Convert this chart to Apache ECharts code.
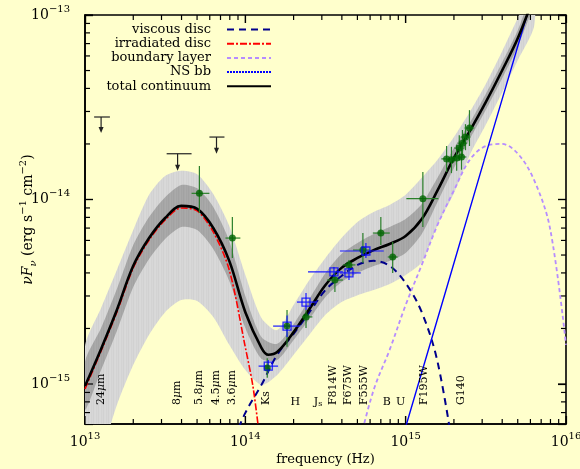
<!DOCTYPE html>
<html><head><meta charset="utf-8">
<script src="https://cdn.jsdelivr.net/npm/echarts@6/dist/echarts.min.js"></script>
<style>html,body{margin:0;padding:0;background:#ffffcc}#c{width:580px;height:469px}</style>
</head><body><div id="c"></div>
<script>
// ---------- data (frequency in Hz, nuFnu in erg s^-1 cm^-2) ----------
const totalFreq = [1e13,1.26e13,1.58e13,2.0e13,2.51e13,3.16e13,3.98e13,5.01e13,6.31e13,7.94e13,1e14,1.26e14,1.39e14,1.58e14,2.0e14,2.51e14,3.16e14,3.98e14,5.01e14,6.31e14,7.94e14,1e15,1.26e15,1.58e15,2.0e15,2.51e15,3.16e15,3.98e15,5.01e15,6.31e15];
const totalFlux = [9.75e-16,1.55e-15,2.52e-15,4.37e-15,6.18e-15,7.94e-15,9.23e-15,8.89e-15,7.01e-15,4.65e-15,2.45e-15,1.57e-15,1.44e-15,1.49e-15,1.91e-15,2.55e-15,3.44e-15,4.26e-15,4.82e-15,5.32e-15,5.74e-15,6.34e-15,7.83e-15,1.12e-14,1.68e-14,2.35e-14,3.37e-14,4.97e-14,7.50e-14,1.26e-13];

const irrFreq = [1e13,1.26e13,1.58e13,2.0e13,2.51e13,3.16e13,3.98e13,5.01e13,6.31e13,7.94e13,1e14,1.12e14,1.26e14];
const irrFlux = [9.4e-16,1.51e-15,2.45e-15,4.26e-15,6.03e-15,7.74e-15,8.99e-15,8.67e-15,6.67e-15,4.15e-15,1.58e-15,9.5e-16,4.2e-16];

const viscFreq = [7.94e13,1e14,1.26e14,1.58e14,2.0e14,2.51e14,3.16e14,3.98e14,5.01e14,6.31e14,7.94e14,1e15,1.26e15,1.58e15,2.0e15];
const viscFlux = [4.39e-16,6.97e-16,9.89e-16,1.44e-15,1.87e-15,2.45e-15,3.23e-15,3.85e-15,4.42e-15,4.65e-15,4.37e-15,3.52e-15,2.45e-15,1.32e-15,4.12e-16];

const blFreq = [5.01e14,6.31e14,7.94e14,1e15,1.26e15,1.58e15,2.0e15,2.51e15,3.16e15,3.98e15,5.01e15,6.31e15,7.94e15,1e16];
const blFlux = [4.39e-16,9.27e-16,1.53e-15,2.68e-15,4.42e-15,7.28e-15,1.12e-14,1.64e-14,1.95e-14,2.0e-14,1.77e-14,1.28e-14,7.02e-15,1.63e-15];

const nsFreq = [8.9e14,1e15,1.78e15,3.16e15,6.31e15];
const nsFlux = [4.2e-16,5.85e-16,3.2e-15,1.75e-14,1.34e-13];

const bandFreq = [1e13,1.26e13,1.58e13,2.0e13,2.51e13,3.16e13,3.98e13,5.01e13,6.31e13,7.94e13,1e14,1.26e14,1.58e14,2.0e14,2.51e14,3.16e14,3.98e14,5.01e14,6.31e14,7.94e14,1e15,1.26e15,1.58e15,2.0e15,2.51e15,3.16e15,3.98e15,5.01e15,6.31e15];
const outerUpper = [1.59e-15,2.58e-15,4.15e-15,6.84e-15,1.06e-14,1.34e-14,1.43e-14,1.37e-14,1.07e-14,7.18e-15,3.90e-15,2.28e-15,1.96e-15,2.68e-15,3.66e-15,4.82e-15,6.18e-15,7.55e-15,8.55e-15,9.33e-15,1.06e-14,1.31e-14,1.64e-14,2.18e-14,2.98e-14,4.23e-14,6.31e-14,9.63e-14,1.4e-13];
const outerLower = [2.66e-16,4.12e-16,7.69e-16,1.27e-15,1.85e-15,2.45e-15,2.85e-15,2.82e-15,2.31e-15,1.63e-15,1.19e-15,9.89e-16,1.12e-15,1.44e-15,1.85e-15,2.37e-15,2.78e-15,3.03e-15,3.23e-15,3.48e-15,3.90e-15,4.58e-15,7.28e-15,1.08e-14,1.74e-14,2.54e-14,3.78e-14,5.70e-14,8.61e-14];
const innerUpper = [1.32e-15,2.01e-15,3.27e-15,5.67e-15,8.04e-15,1.03e-14,1.20e-14,1.15e-14,9.11e-15,5.96e-15,3.00e-15,1.80e-15,1.65e-15,2.11e-15,2.89e-15,4.00e-15,5.07e-15,5.81e-15,6.50e-15,7.10e-15,7.84e-15,9.45e-15,1.31e-14,1.90e-14,2.60e-14,3.73e-14,5.49e-14,8.29e-14,1.42e-13];
const innerLower = [7.23e-16,1.19e-15,1.94e-15,3.36e-15,4.76e-15,6.11e-15,7.10e-15,6.83e-15,5.39e-15,3.62e-15,2.01e-15,1.37e-15,1.35e-15,1.73e-15,2.25e-15,2.96e-15,3.57e-15,4.00e-15,4.36e-15,4.64e-15,5.13e-15,6.50e-15,9.69e-15,1.48e-14,2.13e-14,3.06e-14,4.50e-14,6.79e-14,1.16e-13];

// detections (green)
const gFreq   = [5.17e13,8.3e13,1.37e14,1.82e14,2.39e14,3.62e14,4.43e14,5.41e14,7.0e14,8.3e14,1.28e15,1.80e15,1.93e15,2.08e15,2.23e15,2.16e15,2.26e15,2.36e15,2.50e15];
const gFlux   = [1.08e-14,6.18e-15,1.22e-15,2.06e-15,2.31e-15,3.66e-15,4.42e-15,5.32e-15,6.58e-15,4.88e-15,1.01e-14,1.66e-14,1.64e-14,1.68e-14,1.70e-14,1.90e-14,2.02e-14,2.18e-14,2.44e-14];
const gFluxLo = [8.45e-15,4.82e-15,1.08e-15,1.59e-15,2.01e-15,3.15e-15,4.05e-15,4.53e-15,5.66e-15,4.0e-15,7.10e-15,1.41e-14,1.39e-14,1.43e-14,1.45e-14,1.62e-14,1.72e-14,1.85e-14,1.95e-14];
const gFluxHi = [1.52e-14,8.04e-15,1.38e-15,2.52e-15,2.52e-15,4.05e-15,4.70e-15,6.58e-15,8.04e-15,5.89e-15,1.41e-14,1.95e-14,1.93e-14,1.98e-14,2.0e-14,2.23e-14,2.38e-14,2.56e-14,3.05e-14];
const gFreqLo = [4.62e13,7.52e13,1.33e14,1.75e14,2.26e14,3.23e14,4.06e14,4.69e14,6.24e14,7.73e14,1.01e15,1.67e15,1.80e15,1.94e15,2.08e15,2.01e15,2.11e15,2.20e15,2.33e15];
const gFreqHi = [5.97e13,9.31e13,1.41e14,1.90e14,2.62e14,4.06e14,4.86e14,5.97e14,7.96e14,8.91e14,1.60e15,1.93e15,2.07e15,2.23e15,2.39e15,2.32e15,2.42e15,2.53e15,2.68e15];

// photometry (blue squares)
const bFreq   = [1.39e14,1.82e14,2.39e14,3.57e14,4.43e14,5.65e14];
const bFlux   = [1.25e-15,2.06e-15,2.78e-15,4.05e-15,4.0e-15,5.26e-15];
const bFluxLo = [1.16e-15,1.80e-15,2.52e-15,3.80e-15,3.66e-15,4.82e-15];
const bFluxHi = [1.35e-15,2.35e-15,3.11e-15,4.30e-15,4.31e-15,5.81e-15];
const bFreqLo = [1.21e14,1.49e14,2.10e14,2.46e14,3.89e14,3.89e14];
const bFreqHi = [1.60e14,2.20e14,2.80e14,4.06e14,5.25e14,7.30e14];

// upper limits
const ulFreq   = [1.26e13,3.78e13,6.61e13];
const ulFlux   = [2.80e-14,1.77e-14,2.18e-14];
const ulTip    = [2.29e-14,1.43e-14,1.77e-14];
const ulFreqLo = [1.14e13,3.23e13,5.97e13];
const ulFreqHi = [1.43e13,4.62e13,7.41e13];

// band labels
const bandNames = ['24μm','8μm','5.8μm','4.5μm','3.6μm','Ks','H','Js','F814W','F675W','F555W','B','U','F195W','G140'];
const bandNameFreq = [1.26e13,3.78e13,5.18e13,6.61e13,8.30e13,1.35e14,2.05e14,2.84e14,3.52e14,4.37e14,5.49e14,7.62e14,9.31e14,1.31e15,2.23e15];
const horizontalNames = ['H','Js','B','U'];

const xMajor = [1e13,1e14,1e15,1e16];
const yMajor = [1e-15,1e-14,1e-13];
// ---------------------------------------------------------------------

const SERIF = 'DejaVu Serif';
const xMinor = [], yMinor = [];
for (let n = 13; n <= 15; n++) for (let k = 2; k <= 9; k++) xMinor.push(k * Math.pow(10, n));
for (let n = -16; n <= -14; n++) for (let k = 2; k <= 9; k++) yMinor.push(k * Math.pow(10, n));
const X_MIN = 1e13, X_MAX = 1e16, Y_MIN = 6.07e-16, Y_MAX = 1e-13;
const LABEL_BASE = 7.69e-16;

const pairs = (a, b) => a.map((v, i) => [v, b[i]]);
const supRich = {
  b: {fontFamily: SERIF, fontSize: 14, lineHeight: 22, color: '#000'},
  s: {fontFamily: SERIF, fontSize: 10, lineHeight: 12, verticalAlign: 'top', color: '#000'}
};
const inTick = {show: true, inside: true, length: 8, lineStyle: {color: '#000', width: 1.2}};

function stripes(cols) {
  const c = document.createElement('canvas');
  c.width = cols.length; c.height = 4;
  const ctx = c.getContext('2d');
  cols.forEach((col, i) => { ctx.fillStyle = col; ctx.fillRect(i, 0, 1, 4); });
  return {image: c, repeat: 'repeat'};
}
const lightFill = stripes(['#d9d9d9', '#d3d3d3', '#d7d7d7', '#d1d1d1', '#d8d8d8']);
const darkFill = stripes(['#aaaaaa', '#a4a4a4', '#a8a8a8', '#a2a2a2', '#a7a7a7']);

function band(upper, lower, fill) {
  return {
    type: 'custom', xAxisIndex: 0, yAxisIndex: 0, z: 1, silent: true,
    data: [[bandFreq[0], upper[0]]],
    renderItem(params, api) {
      const pts = [];
      for (let i = 0; i < bandFreq.length; i++) pts.push(api.coord([bandFreq[i], upper[i]]));
      for (let i = bandFreq.length - 1; i >= 0; i--) pts.push(api.coord([bandFreq[i], lower[i]]));
      const cs = params.coordSys;
      return {type: 'polygon', shape: {points: pts, smooth: 0.25}, style: {fill},
              clipPath: {type: 'rect', shape: {x: cs.x, y: cs.y, width: cs.width, height: cs.height}}};
    }
  };
}

function errBars(fr, fl, flo, fhi, xlo, xhi, color) {
  return {
    type: 'custom', xAxisIndex: 0, yAxisIndex: 0, z: 5, silent: true,
    data: fr.map((f, i) => [f, fl[i], flo[i], fhi[i], xlo[i], xhi[i]]),
    encode: {x: 0, y: 1},
    renderItem(params, api) {
      const v0 = api.coord([api.value(0), api.value(2)]);
      const v1 = api.coord([api.value(0), api.value(3)]);
      const h0 = api.coord([api.value(4), api.value(1)]);
      const h1 = api.coord([api.value(5), api.value(1)]);
      return {type: 'group', children: [
        {type: 'line', shape: {x1: v0[0], y1: v0[1], x2: v1[0], y2: v1[1]}, style: {stroke: color, lineWidth: 1.2}},
        {type: 'line', shape: {x1: h0[0], y1: h0[1], x2: h1[0], y2: h1[1]}, style: {stroke: color, lineWidth: 1.2}}
      ]};
    }
  };
}

// inward minor/major ticks on all four sides, placed with the axes' own log scales
const tickData = [];
xMajor.forEach(v => tickData.push([v, Y_MIN, 1, 0]));
xMinor.forEach(v => tickData.push([v, Y_MIN, 0, 0]));
yMajor.forEach(v => tickData.push([X_MIN, v, 1, 1]));
yMinor.filter(v => v >= Y_MIN).forEach(v => tickData.push([X_MIN, v, 0, 1]));
const tickSeries = {
  type: 'custom', xAxisIndex: 0, yAxisIndex: 0, z: 2, silent: true,
  data: tickData, encode: {x: 0, y: 1},
  renderItem(params, api) {
    const len = api.value(2) > 0.5 ? 8 : 5;
    if (api.value(3) < 0.5) {
      const b = api.coord([api.value(0), Y_MIN]);
      const t = api.coord([api.value(0), Y_MAX]);
      return {type: 'group', children: [
        {type: 'line', shape: {x1: b[0], y1: b[1], x2: b[0], y2: b[1] - len}, style: {stroke: '#000', lineWidth: 1.2}},
        {type: 'line', shape: {x1: t[0], y1: t[1], x2: t[0], y2: t[1] + len}, style: {stroke: '#000', lineWidth: 1.2}}]};
    }
    const l = api.coord([X_MIN, api.value(1)]);
    const r = api.coord([X_MAX, api.value(1)]);
    return {type: 'group', children: [
      {type: 'line', shape: {x1: l[0], y1: l[1], x2: l[0] + len, y2: l[1]}, style: {stroke: '#000', lineWidth: 1.2}},
      {type: 'line', shape: {x1: r[0], y1: r[1], x2: r[0] - len, y2: r[1]}, style: {stroke: '#000', lineWidth: 1.2}}]};
  }
};

const lineS = (name, fr, fl, color, width, type, smooth, z) => ({
  name, type: 'line', xAxisIndex: 0, yAxisIndex: 0, data: pairs(fr, fl), symbol: 'none', showSymbol: false,
  smooth, z, clip: true, silent: true,
  lineStyle: {color, width, type}, itemStyle: {color}
});

const option = {
  backgroundColor: '#ffffcc',
  animation: false,
  grid: {left: 85, right: 14, top: 15, bottom: 45, outerBoundsMode: 'none', containLabel: false,
         show: true, borderColor: '#000', borderWidth: 1.6, backgroundColor: 'transparent'},
  xAxis: [{
    type: 'log', logBase: 10, min: X_MIN, max: X_MAX, position: 'bottom',
    axisLine: {show: true, onZero: false, lineStyle: {color: '#000', width: 1.6}},
    axisTick: inTick,
    axisLabel: {show: true, customValues: xMajor, margin: 7,
      formatter: v => '{b|10}{s|' + Math.round(Math.log10(v)) + '}', rich: supRich},
    splitLine: {show: false},
    name: 'frequency (Hz)', nameLocation: 'middle', nameGap: 29, nameMoveOverlap: false,
    nameTextStyle: {fontFamily: SERIF, fontSize: 13, color: '#000'}
  }, {
    type: 'log', logBase: 10, min: X_MIN, max: X_MAX, position: 'top',
    axisLine: {show: false}, axisTick: inTick, axisLabel: {show: false}, splitLine: {show: false}
  }],
  yAxis: [{
    type: 'log', logBase: 10, min: Y_MIN, max: Y_MAX, position: 'left',
    axisLine: {show: true, onZero: false, lineStyle: {color: '#000', width: 1.6}},
    axisTick: inTick,
    axisLabel: {show: true, customValues: yMajor, margin: 15,
      formatter: v => '{b|10}{s|−' + Math.round(-Math.log10(v)) + '}', rich: supRich},
    splitLine: {show: false},
    name: '{i|νF}{sub|ν}{n| (erg s}{sup|−1}{n| cm}{sup|−2}{n|)}', nameLocation: 'middle', nameGap: 47, nameRotate: 90,
    nameMoveOverlap: false,
    nameTextStyle: {color: '#000', rich: {
      i: {fontFamily: SERIF, fontStyle: 'italic', fontSize: 14, lineHeight: 20, color: '#000'},
      n: {fontFamily: SERIF, fontSize: 14, lineHeight: 20, color: '#000'},
      sub: {fontFamily: SERIF, fontStyle: 'italic', fontSize: 10, lineHeight: 10, verticalAlign: 'bottom', color: '#000'},
      sup: {fontFamily: SERIF, fontSize: 10, lineHeight: 10, verticalAlign: 'top', color: '#000'}
    }}
  }, {
    type: 'log', logBase: 10, min: Y_MIN, max: Y_MAX, position: 'right',
    axisLine: {show: false}, axisTick: inTick, axisLabel: {show: false}, splitLine: {show: false}
  }],
  legend: {
    orient: 'vertical', align: 'right', right: 308, top: 23, padding: 0,
    itemWidth: 44, itemHeight: 12, itemGap: 1.2,
    itemStyle: {opacity: 0},
    textStyle: {fontFamily: SERIF, fontSize: 13, lineHeight: 13, color: '#000', padding: [0, 11, 0, 0]},
    data: [{name: 'viscous disc'}, {name: 'irradiated disc'}, {name: 'boundary layer'},
           {name: 'NS bb', lineStyle: {type: [2, 1]}}, {name: 'total continuum'}]
  },
  series: [
    band(outerUpper, outerLower, lightFill),
    band(innerUpper, innerLower, darkFill),
    tickSeries,
    lineS('viscous disc', viscFreq, viscFlux, '#00008b', 2, [7, 5], 0.35, 3),
    lineS('boundary layer', blFreq, blFlux, '#b68cff', 1.8, [4, 3], 0.35, 3),
    lineS('NS bb', nsFreq, nsFlux, '#0000ff', 1.4, 'solid', false, 3),
    lineS('irradiated disc', irrFreq, irrFlux, '#ff0000', 1.6, [7, 2, 2, 2], 0.3, 3),
    lineS('total continuum', totalFreq, totalFlux, '#000000', 2.6, 'solid', 0.35, 4),
    {
      type: 'custom', xAxisIndex: 0, yAxisIndex: 0, z: 5, silent: true,
      data: ulFreq.map((f, i) => [f, ulFlux[i], ulTip[i], ulFreqLo[i], ulFreqHi[i]]),
      encode: {x: 0, y: 1},
      renderItem(params, api) {
        const top = api.coord([api.value(0), api.value(1)]);
        const tip = api.coord([api.value(0), api.value(2)]);
        const l = api.coord([api.value(3), api.value(1)]);
        const r = api.coord([api.value(4), api.value(1)]);
        return {type: 'group', children: [
          {type: 'line', shape: {x1: l[0], y1: l[1], x2: r[0], y2: r[1]}, style: {stroke: '#222', lineWidth: 1.2}},
          {type: 'line', shape: {x1: top[0], y1: top[1], x2: tip[0], y2: tip[1] - 3}, style: {stroke: '#222', lineWidth: 1.2}},
          {type: 'polygon', shape: {points: [[tip[0] - 2.5, tip[1] - 6], [tip[0] + 2.5, tip[1] - 6], [tip[0], tip[1]]]},
           style: {fill: '#222'}}
        ]};
      }
    },
    errBars(gFreq, gFlux, gFluxLo, gFluxHi, gFreqLo, gFreqHi, '#2a7f2a'),
    {type: 'scatter', xAxisIndex: 0, yAxisIndex: 0, z: 6, silent: true, data: pairs(gFreq, gFlux),
     symbol: 'circle', symbolSize: 7, itemStyle: {color: '#006400'}},
    errBars(bFreq, bFlux, bFluxLo, bFluxHi, bFreqLo, bFreqHi, '#1a1aff'),
    {type: 'scatter', xAxisIndex: 0, yAxisIndex: 0, z: 6, silent: true, data: pairs(bFreq, bFlux),
     symbol: 'rect', symbolSize: 8, itemStyle: {color: 'rgba(0,0,0,0)', borderColor: '#0000ff', borderWidth: 1.3}},
    {
      type: 'custom', xAxisIndex: 0, yAxisIndex: 0, z: 7, silent: true,
      data: bandNameFreq.map((f) => [f, LABEL_BASE]),
      encode: {x: 0, y: 1},
      renderItem(params, api) {
        const i = params.dataIndex;
        const p = api.coord([api.value(0), api.value(1)]);
        const name = bandNames[i];
        const horiz = horizontalNames.indexOf(name) >= 0;
        let text;
        if (name === 'Js') text = '{n|J}{sub|s}';
        else if (name.indexOf('μ') >= 0) text = '{n|' + name.split('μ')[0] + '}{i|μ}{n|m}';
        else text = '{n|' + name + '}';
        return {
          type: 'text', x: p[0], y: horiz ? p[1] - 3 : p[1], rotation: horiz ? 0 : Math.PI / 2,
          style: {
            text, fill: '#000', align: horiz ? 'center' : 'left', verticalAlign: 'middle',
            rich: {
              n: {fontFamily: SERIF, fontSize: 11, color: '#000'},
              i: {fontFamily: SERIF, fontSize: 11, fontStyle: 'italic', color: '#000'},
              sub: {fontFamily: SERIF, fontSize: 8, color: '#000', verticalAlign: 'bottom', lineHeight: 10}
            }
          }
        };
      }
    }
  ]
};

const chart = echarts.init(document.getElementById('c'));
chart.setOption(option);
</script></body></html>
